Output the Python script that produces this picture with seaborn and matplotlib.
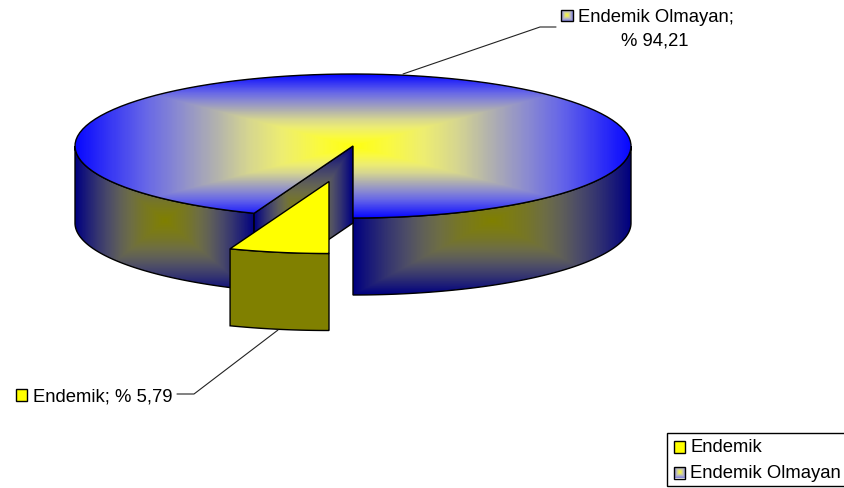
import numpy as np
import matplotlib
matplotlib.use("Agg")
import matplotlib.pyplot as plt
from matplotlib.patches import Polygon, Rectangle
import seaborn as sns

# Share of species by status
categories = ["Endemik", "Endemik Olmayan"]
shares = [5.79, 94.21]
share_labels = ["% 5,79", "% 94,21"]

sns.set_theme(style="white")
plt.rcParams["font.family"] = ["Liberation Sans", "DejaVu Sans"]

W, H = 844, 488
fig = plt.figure(figsize=(W / 100, H / 100), dpi=100)
ax = fig.add_axes([0, 0, 1, 1])
ax.set_xlim(0, W)
ax.set_ylim(H, 0)
ax.axis("off")

# Pie geometry in figure pixels
cx, cy, rx, ry = 353.0, 146.0, 278.0, 72.0
depth = 77.0
explode = (-24.0, 35.5)

top_cmap = sns.blend_palette(["#ffff10", "#fafa40", "#eeee70", "#d6d690", "#b0b0b0",
                              "#8c8cd0", "#6666e8", "#3838f4", "#0808ff"], as_cmap=True)
wall_cmap = sns.blend_palette(["#808000", "#7c7c14", "#767628", "#6e6e44", "#606058",
                               "#4c4c68", "#363670", "#1c1c78", "#000080"], as_cmap=True)
swatch_cmap = sns.blend_palette(["#ffff20", "#e0e080", "#b4b4c8", "#8c8cdc"], as_cmap=True)
FS = 13.3


def rim(a0, a1, offset=(0.0, 0.0), n=120):
    """Ellipse points; angle is measured clockwise from straight down."""
    t = np.radians(np.linspace(a0, a1, n))
    return np.column_stack([cx + offset[0] - rx * np.sin(t), cy + offset[1] + ry * np.cos(t)])


def shaded(poly_pts, cmap, box, z):
    """Fill a polygon with a rectangular path gradient spanning box."""
    x0, x1, y0, y1 = box
    xs = np.linspace(x0, x1, max(int(x1 - x0), 2))
    ys = np.linspace(y0, y1, max(int(y1 - y0), 2))
    gx, gy = np.meshgrid(xs, ys)
    u = np.abs(gx - (x0 + x1) / 2) / ((x1 - x0) / 2)
    v = np.abs(gy - (y0 + y1) / 2) / ((y1 - y0) / 2)
    img = np.maximum(u, v)
    im = ax.imshow(img, cmap=cmap, vmin=0, vmax=1, extent=(x0, x1, y1, y0),
                   zorder=z, aspect="auto", interpolation="bilinear")
    patch = Polygon(poly_pts, closed=True, transform=ax.transData, facecolor="none", edgecolor="none")
    ax.add_patch(patch)
    im.set_clip_path(patch)
    ax.add_patch(Polygon(poly_pts, closed=True, facecolor="none", edgecolor="black",
                         linewidth=1.0, zorder=z + 0.1, joinstyle="miter"))


sweep = 360.0 * shares[0] / sum(shares)
shift = np.array([0.0, depth])

# Outer walls of the large slice, left and right of the gap
left_edge = rim(sweep, 90)
right_edge = rim(-90, 0)
cut_end = rim(sweep, sweep, n=1)[0]
shaded(np.vstack([left_edge, (left_edge + shift)[::-1]]), wall_cmap,
       (cx - rx, cut_end[0], cy, cy + ry + depth), 2)
shaded(np.vstack([right_edge, (right_edge + shift)[::-1]]), wall_cmap,
       (cx, cx + rx, cy, cy + ry + depth), 2)

# Radial cut face of the large slice
centre = np.array([cx, cy])
shaded(np.array([centre, cut_end, cut_end + shift, centre + shift]), wall_cmap,
       (cut_end[0], cx, cy, cy + ry + depth), 3)

# Top face of the large slice
top_pts = np.vstack([rim(sweep, 360), [centre]])
shaded(top_pts, top_cmap, (cx - rx, cx + rx, cy - ry, cy + ry), 4)

# Exploded small slice
small_rim = rim(0, sweep, explode)
ax.add_patch(Polygon(np.vstack([small_rim, (small_rim + shift)[::-1]]), closed=True,
                     facecolor="#808000", edgecolor="black", linewidth=1.0, zorder=5))
ax.add_patch(Polygon(np.vstack([small_rim, [centre + explode]]), closed=True,
                     facecolor="#ffff00", edgecolor="black", linewidth=1.0, zorder=6))

# Leader lines
ax.plot([403, 540, 556], [74, 27, 27], color="#222222", lw=0.8, zorder=7)
ax.plot([278, 194, 177], [330, 394, 394], color="#222222", lw=0.8, zorder=7)


def swatch(x, y, gradient):
    size = 11.5
    if gradient:
        shaded(np.array([[x, y], [x + size, y], [x + size, y + size], [x, y + size]]),
               swatch_cmap, (x, x + size, y, y + size), 9)
    else:
        ax.add_patch(Rectangle((x, y), size, size, facecolor="#ffff00", edgecolor="black",
                               linewidth=1.0, zorder=9))


# Data labels
swatch(561, 9.5, True)
ax.text(578, 22, f"{categories[1]};", fontsize=FS, color="black", va="baseline", ha="left", zorder=10)
ax.text(655, 45, share_labels[1], fontsize=FS, color="black", va="baseline", ha="center", zorder=10)
swatch(15.5, 389, False)
ax.text(33, 401, f"{categories[0]}; {share_labels[0]}", fontsize=FS, color="black",
        va="baseline", ha="left", zorder=10)

# Legend box runs off the right edge
ax.add_patch(Rectangle((667, 433), 200, 53, facecolor="white", edgecolor="black",
                       linewidth=1.0, zorder=8, clip_on=True))
swatch(673.5, 441, False)
swatch(673.5, 467, True)
ax.text(690, 452, categories[0], fontsize=FS, color="black", va="baseline", ha="left", zorder=10)
ax.text(690, 478, categories[1], fontsize=FS, color="black", va="baseline", ha="left", zorder=10)

fig.savefig("out.png", dpi=100, facecolor="white")
